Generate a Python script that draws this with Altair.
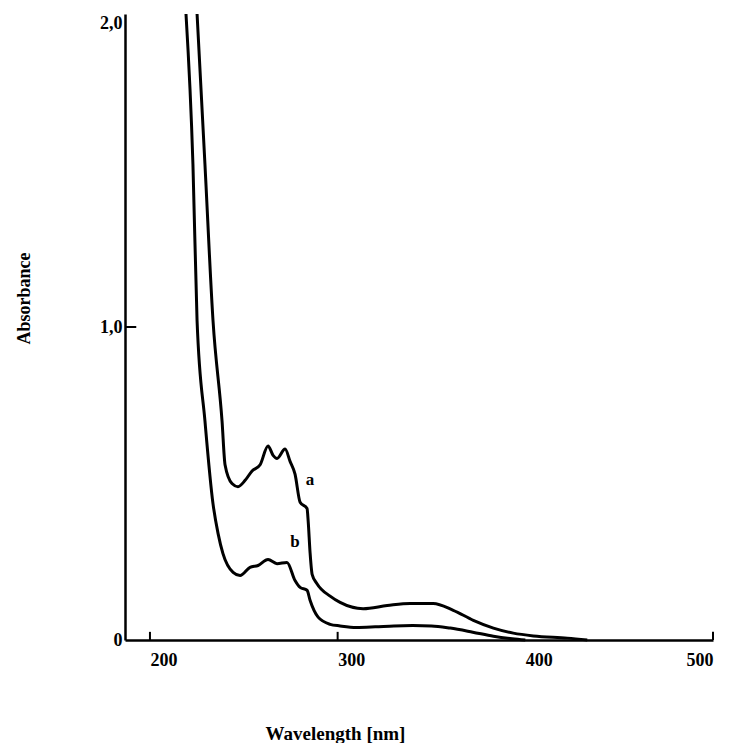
import altair as alt
import pandas as pd

# Curve a (upper)
wl_a = [225.1, 229.3, 233.6, 238.4, 240.0, 243.7, 246.9, 250.7, 254.4, 258.7, 262.9, 265.6,
        267.7, 272.0, 274.7, 277.3, 280.0, 283.7, 284.3, 285.3, 286.4, 289.0, 296.0, 301.3,
        313.6, 326.4, 338.7, 350.9, 361.6, 372.3, 383.0, 393.6, 404.3, 422.4, 433.0]
abs_a = [2.00, 1.52, 1.02, 0.70, 0.56, 0.50, 0.49, 0.51, 0.54, 0.56, 0.62, 0.59,
         0.58, 0.61, 0.57, 0.53, 0.44, 0.42, 0.38, 0.28, 0.21, 0.18, 0.14, 0.12,
         0.10, 0.11, 0.117, 0.117, 0.095, 0.063, 0.038, 0.022, 0.013, 0.006, 0.0]

# Curve b (lower)
wl_b = [219.2, 222.9, 225.1, 229.3, 233.6, 236.3, 238.9, 244.3, 248.0, 253.3, 257.6, 262.9,
        267.7, 273.0, 277.3, 280.0, 283.7, 285.3, 289.6, 296.0, 301.3, 310.0, 320.0, 330.0,
        340.0, 350.0, 360.0, 372.0, 383.0, 393.0, 400.0]
abs_b = [2.00, 1.52, 1.02, 0.70, 0.435, 0.34, 0.276, 0.216, 0.206, 0.232, 0.238, 0.257,
         0.244, 0.248, 0.19, 0.168, 0.159, 0.127, 0.073, 0.05, 0.045, 0.04, 0.042, 0.045,
         0.046, 0.045, 0.038, 0.025, 0.012, 0.004, 0.0]

# Curve labels
label_text = ["a", "b"]
label_wl = [285.3, 277.3]
label_abs = [0.51, 0.313]

# Axis ticks
x_ticks = [200, 300, 400, 500]
x_inner_ticks = [200, 300, 500]
y_ticks = [0, 1, 2]

X_MIN, X_MAX = 186.7, 500
FONT = "Liberation Serif"

rows = []
for i, (w, a) in enumerate(zip(wl_a, abs_a)):
    rows.append({"wl": w, "abs": a, "series": "a", "order": i})
for i, (w, a) in enumerate(zip(wl_b, abs_b)):
    rows.append({"wl": w, "abs": a, "series": "b", "order": i})
curves = pd.DataFrame(rows)

xscale = alt.Scale(domain=[X_MIN, X_MAX], nice=False, zero=False)
yscale = alt.Scale(domain=[0, 2], nice=False, zero=False)

x_axis = alt.Axis(
    values=x_ticks, ticks=False, grid=False,
    domainColor="black", domainWidth=2.5,
    labelFont=FONT, labelFontWeight="bold", labelFontSize=18, labelColor="black",
    labelPadding=11,
    labelAlign={"condition": {"test": "datum.value == 500", "value": "right"}, "value": "left"},
    title="Wavelength [nm]", titleFont=FONT, titleFontWeight="bold", titleFontSize=19,
    titleColor="black", titleX=210, titleY=93, titleBaseline="middle", titleAlign="center",
)
y_axis = alt.Axis(
    values=y_ticks, ticks=False, grid=False,
    domainColor="black", domainWidth=2.5,
    labelFont=FONT, labelFontWeight="bold", labelFontSize=18, labelColor="black",
    labelPadding=3,
    labelBaseline={"condition": {"test": "datum.value == 2", "value": "top"}, "value": "middle"},
    labelExpr="datum.value == 0 ? '0' : replace(format(datum.value, '.1f'), '.', ',')",
    title="Absorbance", titleFont=FONT, titleFontWeight="bold", titleFontSize=18,
    titleColor="black", titleX=-101, titleY=284, titleAngle=-90,
    titleBaseline="middle", titleAlign="center",
)

lines = alt.Chart(curves).mark_line(color="black", strokeWidth=3, interpolate="monotone").encode(
    x=alt.X("wl:Q", scale=xscale, axis=x_axis),
    y=alt.Y("abs:Q", scale=yscale, axis=y_axis),
    detail="series:N",
    order="order:Q",
)

labels = alt.Chart(pd.DataFrame({"t": label_text, "wl": label_wl, "abs": label_abs})).mark_text(
    font=FONT, fontWeight="bold", fontSize=17, color="black"
).encode(x=alt.X("wl:Q", scale=xscale), y=alt.Y("abs:Q", scale=yscale), text="t:N")

xt = alt.Chart(pd.DataFrame({"wl": x_inner_ticks, "y0": [0] * 3, "y1": [0.026] * 3})).mark_rule(
    color="black", strokeWidth=2
).encode(x=alt.X("wl:Q", scale=xscale), y=alt.Y("y0:Q", scale=yscale), y2="y1:Q")

yt = alt.Chart(pd.DataFrame({"v": [1], "x0": [X_MIN], "x1": [X_MIN + 6]})).mark_rule(
    color="black", strokeWidth=2
).encode(y=alt.Y("v:Q", scale=yscale), x=alt.X("x0:Q", scale=xscale), x2="x1:Q")

chart = alt.layer(lines, labels, xt, yt).properties(
    width=588, height=626,
    autosize=alt.AutoSizeParams(type="none"),
    padding={"left": 117, "top": 6, "right": 8, "bottom": 103},
).configure_view(strokeWidth=0)

chart.save("out.html", embed_options={"renderer": "svg", "actions": False})
